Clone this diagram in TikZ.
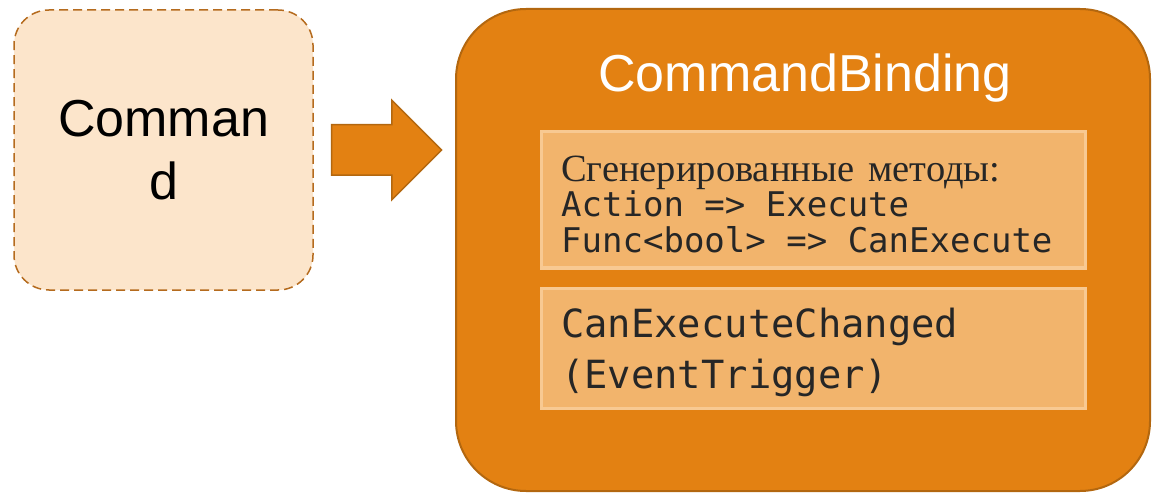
\documentclass[tikz,border=0pt]{standalone}
\usepackage{fontspec}
\setmainfont{Liberation Sans}
\newfontfamily\rmrus{Liberation Serif}
\newfontfamily\codefont{DejaVu Sans Mono}
\usetikzlibrary{shapes.arrows}

\definecolor{cmdfill}{HTML}{FCE5CB}
\definecolor{cmdline}{HTML}{B56B1E}
\definecolor{orfill}{HTML}{E38112}
\definecolor{orline}{HTML}{B3670F}
\definecolor{infill}{HTML}{F2B46C}
\definecolor{inline}{HTML}{F8C992}
\definecolor{darktext}{HTML}{262626}

\tikzset{
  cmdbox/.style={draw=cmdline, fill=cmdfill, line width=1.5pt, dash pattern=on 9pt off 5pt,
    rounded corners=35pt, minimum width=299pt, minimum height=280pt, inner sep=0pt},
  bindbox/.style={draw=orline, fill=orfill, line width=2pt, rounded corners=70pt,
    minimum width=694pt, minimum height=482pt, inner sep=0pt},
  innerbox/.style={draw=inline, fill=infill, line width=3pt, minimum width=544pt, inner sep=0pt},
  blockarrow/.style={single arrow, draw=orline, fill=orfill, line width=1.5pt,
    inner xsep=0pt, inner ysep=24.5pt, single arrow head extend=24.5pt,
    single arrow tip angle=90, minimum height=110pt, outer sep=0pt},
  bigtext/.style={font=\fontsize{52}{63}\selectfont, align=center, inner sep=0pt},
  rutext/.style={font=\rmrus\fontsize{38.5}{38}\selectfont, text=darktext, inner sep=0pt, anchor=base west},
  codetext/.style={font=\codefont\fontsize{34}{36}\selectfont, text=darktext, inner sep=0pt, anchor=base west},
  codebig/.style={font=\codefont\fontsize{38.8}{51}\selectfont, text=darktext, inner sep=0pt, anchor=base west}
}

\begin{document}
\begin{tikzpicture}[x=1pt, y=-1pt]
  \useasboundingbox (0,0) rectangle (1153,494);

  % command
  \node[cmdbox] (cmd) at (163.5,150) {};
  \node[bigtext, anchor=base] (cmdtext) at (163.5,200) {Comman\\d};

  % arrow
  \node[blockarrow] (arr) at (374,150) {};

  % binding
  \node[bindbox] (bind) at (803,250) {};
  \node[bigtext, text=white, anchor=base] (title) at (805,92) {CommandBinding};

  \node[innerbox, minimum height=136pt] (methods) at (813,200) {};
  \node[rutext] (gen) at (561,182) {Сгенерированные\hspace{14pt}методы:};
  \node[codetext] (act) at (561,217) {Action => Execute};
  \node[codetext] (func) at (561,253) {Func<bool> => CanExecute};

  \node[innerbox, minimum height=120pt] (event) at (813,348) {};
  \node[codebig] (chg) at (561,337) {CanExecuteChanged};
  \node[codebig] (trig) at (561,388) {(EventTrigger)};
\end{tikzpicture}
\end{document}
